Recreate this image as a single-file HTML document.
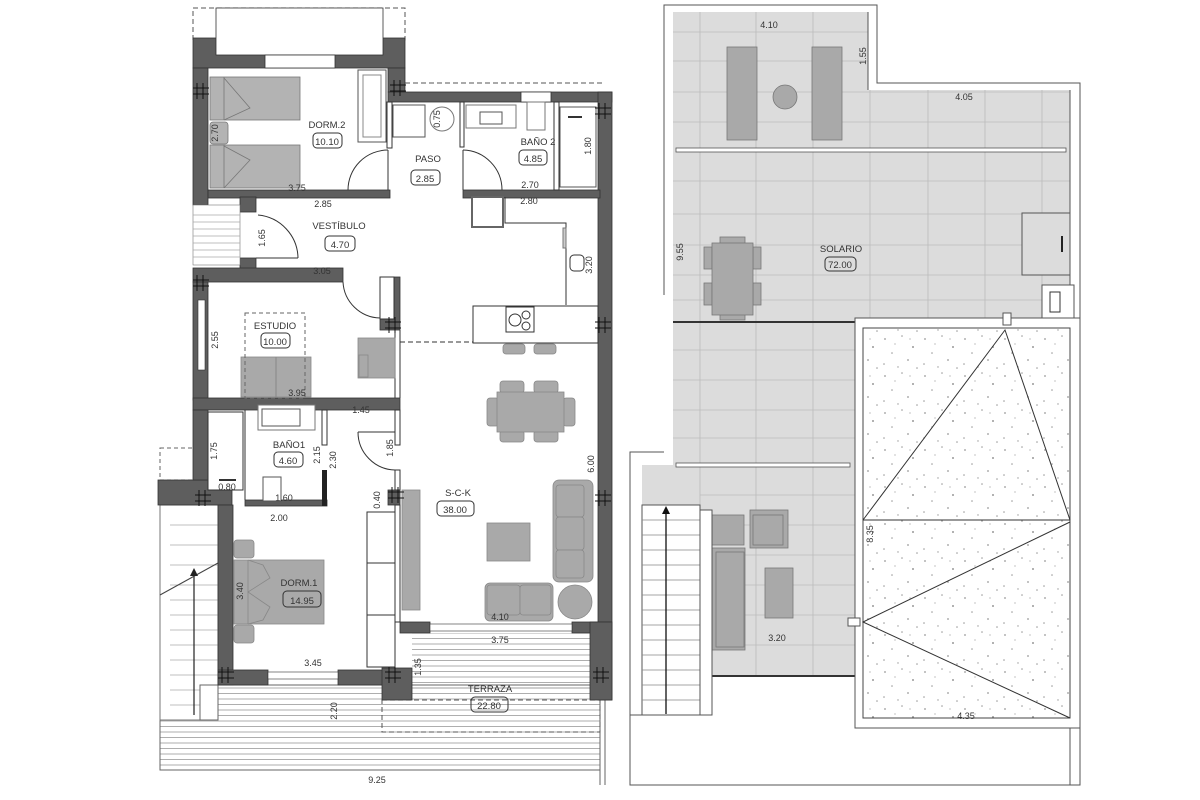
<!DOCTYPE html>
<html><head><meta charset="utf-8"><style>
html,body{margin:0;padding:0;background:#fff;}
svg{display:block;}
text{font-family:"Liberation Sans",sans-serif;fill:#333;}
</style></head><body>
<svg width="1200" height="800" viewBox="0 0 1200 800" xmlns="http://www.w3.org/2000/svg">
<defs>
<pattern id="hatch" width="10" height="5.5" patternUnits="userSpaceOnUse"><line x1="0" y1="0.5" x2="10" y2="0.5" stroke="#999" stroke-width="0.8"/></pattern>
<pattern id="grav" width="40" height="37" patternUnits="userSpaceOnUse">
<g fill="#999"><circle cx="5" cy="6" r="0.9"/><circle cx="22" cy="3" r="0.8"/><circle cx="33" cy="14" r="1"/><circle cx="12" cy="20" r="0.8"/><circle cx="28" cy="27" r="0.9"/><circle cx="4" cy="31" r="0.8"/><circle cx="18" cy="34" r="0.7"/><circle cx="37" cy="35" r="0.8"/><circle cx="15" cy="11" r="0.6"/><circle cx="30" cy="6" r="0.6"/></g></pattern>
</defs>

<!-- ============ LEFT PLAN ============ -->
<rect x="160" y="685" width="440" height="85" fill="url(#hatch)"/>
<rect x="412" y="633" width="188" height="60" fill="url(#hatch)"/>
<rect x="160" y="685" width="440" height="85" fill="none" stroke="#666" stroke-width="1"/>
<line x1="600" y1="700" x2="600" y2="785" stroke="#666"/><line x1="605" y1="700" x2="605" y2="785" stroke="#666"/>
<rect x="382" y="700" width="218" height="32" fill="none" stroke="#555" stroke-dasharray="5,3"/>
<rect x="160" y="505" width="58" height="215" fill="#fff" stroke="#777"/>
<g stroke="#aaa" stroke-width="0.8">
<line x1="170" y1="525" x2="218" y2="525"/><line x1="170" y1="545" x2="218" y2="545"/><line x1="170" y1="565" x2="218" y2="565"/><line x1="170" y1="585" x2="218" y2="585"/><line x1="170" y1="600" x2="218" y2="600"/><line x1="170" y1="615" x2="218" y2="615"/><line x1="170" y1="630" x2="218" y2="630"/><line x1="170" y1="645" x2="218" y2="645"/><line x1="170" y1="660" x2="218" y2="660"/><line x1="170" y1="675" x2="218" y2="675"/><line x1="170" y1="690" x2="218" y2="690"/><line x1="170" y1="705" x2="218" y2="705"/></g>
<line x1="194" y1="572" x2="194" y2="715" stroke="#222" stroke-width="1.2"/>
<line x1="160" y1="595" x2="218" y2="563" stroke="#444"/>
<polygon points="194,568 190,576 198,576" fill="#222"/>
<rect x="160" y="448" width="35" height="32" fill="none" stroke="#666" stroke-dasharray="4,3"/>
<rect x="200" y="685" width="18" height="35" fill="#fff" stroke="#666"/>

<rect x="193" y="8" width="212" height="32" fill="none" stroke="#555" stroke-dasharray="5,3"/>
<line x1="405" y1="83" x2="605" y2="83" stroke="#555" stroke-dasharray="5,3"/>

<g fill="#5e5e5e" stroke="#333" stroke-width="0.8">
<rect x="193" y="38" width="212" height="30"/>
<rect x="388" y="68" width="17" height="24"/>
<rect x="388" y="92" width="224" height="10"/>
<rect x="598" y="92" width="14" height="608"/>
<rect x="193" y="68" width="15" height="137"/>
<rect x="208" y="190" width="182" height="8"/>
<rect x="463" y="190" width="137" height="8"/>
<rect x="240" y="197" width="16" height="15"/>
<rect x="240" y="258" width="16" height="17"/>
<rect x="193" y="268" width="150" height="14"/>
<rect x="380" y="277" width="20" height="53"/>
<rect x="193" y="282" width="15" height="118"/>
<rect x="193" y="398" width="207" height="12"/>
<rect x="158" y="480" width="74" height="25"/>
<rect x="193" y="410" width="15" height="70"/>
<rect x="218" y="505" width="15" height="180"/>
<rect x="218" y="670" width="50" height="15"/>
<rect x="338" y="670" width="62" height="15"/>
<rect x="382" y="668" width="30" height="32"/>
<rect x="388" y="490" width="12" height="15"/>
<rect x="400" y="622" width="30" height="11"/>
<rect x="572" y="622" width="40" height="11"/>
<rect x="590" y="622" width="22" height="78"/>
<rect x="245" y="500" width="82" height="6"/>
</g>
<rect x="216" y="8" width="167" height="47" fill="#fff" stroke="#333" stroke-width="0.8"/>
<rect x="265" y="55" width="70" height="13" fill="#fff" stroke="#333" stroke-width="0.8"/>
<rect x="521" y="92" width="30" height="10" fill="#fff" stroke="#333" stroke-width="0.8"/>
<rect x="198" y="300" width="7" height="70" fill="#fff" stroke="#333" stroke-width="0.6"/>
<rect x="430" y="624" width="142" height="7" fill="#fff" stroke="#333" stroke-width="0.6"/>
<rect x="268" y="672" width="70" height="7" fill="#fff" stroke="#333" stroke-width="0.6"/>
<rect x="193" y="205" width="47" height="60" fill="#fff" stroke="#777" stroke-width="0.6"/>
<g stroke="#aaa" stroke-width="0.7"><line x1="193" y1="215" x2="240" y2="215"/><line x1="193" y1="222" x2="240" y2="222"/><line x1="193" y1="229" x2="240" y2="229"/><line x1="193" y1="236" x2="240" y2="236"/><line x1="193" y1="243" x2="240" y2="243"/><line x1="193" y1="250" x2="240" y2="250"/><line x1="193" y1="257" x2="240" y2="257"/></g>

<g stroke="#333" stroke-width="1" fill="none">
<rect x="387" y="102" width="5" height="46"/>
<rect x="460" y="102" width="4" height="45"/>
<rect x="554" y="102" width="5" height="88"/>
<line x1="395" y1="330" x2="395" y2="398"/><line x1="400" y1="330" x2="400" y2="398"/>
<rect x="322" y="410" width="5" height="35"/>
<rect x="395" y="410" width="5" height="35"/>
<rect x="395" y="470" width="5" height="20"/>
<line x1="245" y1="410" x2="245" y2="500"/>
<rect x="395" y="505" width="5" height="117"/>
</g>
<rect x="322" y="470" width="5" height="36" fill="#222"/>

<g stroke="#333" stroke-width="1" fill="none">
<path d="M348,190 A40,40 0 0 1 388,150"/><line x1="388" y1="150" x2="388" y2="190"/>
<path d="M502,190 A40,40 0 0 0 463,150"/><line x1="463" y1="150" x2="463" y2="190"/>
<path d="M258,215 A44,44 0 0 1 298,258"/><line x1="256" y1="258" x2="298" y2="258"/>
<path d="M343,282 A38,38 0 0 0 380,318"/><line x1="380" y1="282" x2="380" y2="318"/>
<path d="M358,432 A38,38 0 0 0 395,470"/><line x1="358" y1="432" x2="395" y2="432"/>
</g>

<g fill="#b3b3b3" stroke="#777" stroke-width="0.8">
<rect x="210" y="77" width="90" height="43"/><rect x="210" y="145" width="90" height="43"/>
<rect x="210" y="122" width="18" height="22" rx="3"/>
</g>
<g stroke="#777" fill="none" stroke-width="0.8"><line x1="224" y1="77" x2="224" y2="120"/><polyline points="224,78 250,108 224,120"/><line x1="224" y1="145" x2="224" y2="188"/><polyline points="224,146 250,160 224,188"/></g>
<rect x="358" y="70" width="28" height="72" fill="#fff" stroke="#555"/><rect x="363" y="75" width="18" height="62" fill="#fff" stroke="#888"/>
<rect x="393" y="105" width="32" height="32" fill="#fff" stroke="#555"/>
<circle cx="442" cy="119" r="12" fill="#fff" stroke="#777"/>
<rect x="466" y="105" width="50" height="23" fill="#fff" stroke="#777"/><rect x="480" y="112" width="22" height="12" fill="#fff" stroke="#555"/>
<rect x="527" y="102" width="18" height="28" fill="#fff" stroke="#777"/>
<rect x="560" y="107" width="36" height="80" fill="#fff" stroke="#555"/><line x1="568" y1="117" x2="582" y2="117" stroke="#333" stroke-width="2"/>
<polyline points="505,197 505,223 566,223 566,305" fill="none" stroke="#333"/>
<rect x="472" y="197" width="31" height="30" fill="#fff" stroke="#666" stroke-width="2"/>
<rect x="563" y="228" width="3" height="20" fill="#ccc" stroke="#777"/>
<rect x="570" y="255" width="14" height="16" rx="4" fill="#fff" stroke="#333"/>
<rect x="473" y="306" width="125" height="37" fill="#fff" stroke="#333"/>
<rect x="506" y="307" width="28" height="25" fill="#fff" stroke="#333"/><circle cx="515" cy="320" r="6" fill="none" stroke="#333"/><circle cx="526" cy="315" r="4" fill="none" stroke="#333"/><circle cx="526" cy="326" r="4" fill="none" stroke="#333"/>
<line x1="400" y1="342" x2="473" y2="342" stroke="#333" stroke-dasharray="5,3"/>
<g fill="#a9a9a9" stroke="#888" stroke-width="0.8">
<rect x="503" y="344" width="22" height="10" rx="3"/><rect x="534" y="344" width="22" height="10" rx="3"/>
<rect x="500" y="381" width="24" height="12" rx="3"/><rect x="534" y="381" width="24" height="12" rx="3"/>
<rect x="500" y="430" width="24" height="12" rx="3"/><rect x="534" y="430" width="24" height="12" rx="3"/>
<rect x="487" y="398" width="12" height="28" rx="3"/><rect x="563" y="398" width="12" height="28" rx="3"/>
<rect x="497" y="392" width="67" height="40"/>
<rect x="402" y="490" width="18" height="120"/>
<rect x="553" y="480" width="40" height="102" rx="6"/>
<rect x="556" y="485" width="28" height="32" rx="3"/><rect x="556" y="517" width="28" height="33" rx="3"/><rect x="556" y="550" width="28" height="28" rx="3"/>
<rect x="487" y="523" width="43" height="38"/>
<rect x="485" y="583" width="68" height="38" rx="5"/>
<rect x="487" y="585" width="33" height="30" rx="3"/><rect x="520" y="585" width="31" height="30" rx="3"/>
<circle cx="575" cy="602" r="17"/>
<rect x="241" y="357" width="70" height="40"/>
<rect x="358" y="338" width="37" height="40"/><rect x="359" y="355" width="9" height="22"/>
<rect x="234" y="540" width="20" height="18" rx="3"/><rect x="234" y="625" width="20" height="18" rx="3"/>
<rect x="234" y="560" width="90" height="64"/>
</g>
<line x1="276" y1="357" x2="276" y2="397" stroke="#888"/>
<g stroke="#888" fill="none" stroke-width="0.8"><line x1="248" y1="560" x2="248" y2="624"/><polyline points="248,560 263,565 270,578 248,592 270,607 263,620 248,624"/></g>
<rect x="245" y="313" width="60" height="85" fill="none" stroke="#666" stroke-dasharray="4,3"/>
<rect x="367" y="512" width="28" height="155" fill="#fff" stroke="#333"/><line x1="367" y1="563" x2="395" y2="563" stroke="#333"/><line x1="367" y1="615" x2="395" y2="615" stroke="#333"/>
<rect x="380" y="277" width="14" height="42" fill="#fff" stroke="#333"/>
<rect x="258" y="405" width="57" height="25" fill="#fff" stroke="#777"/><rect x="262" y="409" width="38" height="17" fill="#fff" stroke="#555"/>
<rect x="263" y="477" width="18" height="24" fill="#fff" stroke="#555"/>
<rect x="208" y="412" width="35" height="78" fill="#fff" stroke="#333"/>
<line x1="219" y1="480" x2="236" y2="480" stroke="#333" stroke-width="2"/>

<g stroke="#111" stroke-width="1" fill="none">
<path d="M193,88h16M193,94h16M197,83v16M203,83v16"/>
<path d="M390,85h16M390,91h16M394,80v16M400,80v16"/>
<path d="M595,108h16M595,114h16M599,103v16M605,103v16"/>
<path d="M193,280h16M193,286h16M197,275v16M203,275v16"/>
<path d="M385,322h16M385,328h16M389,317v16M395,317v16"/>
<path d="M595,322h16M595,328h16M599,317v16M605,317v16"/>
<path d="M195,495h16M195,501h16M199,490v16M205,490v16"/>
<path d="M388,492h16M388,498h16M392,487v16M398,487v16"/>
<path d="M595,495h16M595,501h16M599,490v16M605,490v16"/>
<path d="M218,672h16M218,678h16M222,667v16M228,667v16"/>
<path d="M385,672h16M385,678h16M389,667v16M395,667v16"/>
<path d="M593,672h16M593,678h16M597,667v16M603,667v16"/>
</g>

<!-- ============ RIGHT PLAN ============ -->
<polyline points="664,295 664,5 877,5 877,83 1080,83 1080,785 630,785 630,452 664,452" fill="none" stroke="#555" stroke-width="1"/>
<g fill="#dcdcdc">
<rect x="673" y="12" width="195" height="80"/>
<rect x="673" y="90" width="397" height="230"/>
<rect x="673" y="320" width="182" height="145"/>
<rect x="642" y="465" width="213" height="210"/>
</g>
<g stroke="#bbb" stroke-width="0.8">
<line x1="700" y1="12" x2="700" y2="675"/><line x1="756" y1="12" x2="756" y2="675"/><line x1="813" y1="12" x2="813" y2="675"/>
<line x1="870" y1="90" x2="870" y2="320"/><line x1="928" y1="90" x2="928" y2="320"/><line x1="985" y1="90" x2="985" y2="320"/><line x1="1042" y1="90" x2="1042" y2="320"/>
<line x1="673" y1="32" x2="868" y2="32"/><line x1="673" y1="61" x2="868" y2="61"/><line x1="673" y1="92" x2="1070" y2="92"/><line x1="673" y1="122" x2="1070" y2="122"/>
<line x1="673" y1="181" x2="1070" y2="181"/><line x1="673" y1="214" x2="1070" y2="214"/><line x1="673" y1="245" x2="1070" y2="245"/><line x1="673" y1="275" x2="1070" y2="275"/><line x1="673" y1="300" x2="1070" y2="300"/>
<line x1="673" y1="350" x2="855" y2="350"/><line x1="673" y1="380" x2="855" y2="380"/><line x1="673" y1="410" x2="855" y2="410"/><line x1="673" y1="438" x2="855" y2="438"/>
<line x1="700" y1="495" x2="855" y2="495"/><line x1="700" y1="525" x2="855" y2="525"/><line x1="700" y1="555" x2="855" y2="555"/><line x1="700" y1="585" x2="855" y2="585"/><line x1="700" y1="615" x2="855" y2="615"/><line x1="700" y1="645" x2="855" y2="645"/>
</g>
<line x1="868" y1="12" x2="868" y2="90" stroke="#555"/>
<line x1="1070" y1="90" x2="1070" y2="785" stroke="#555"/>
<line x1="673" y1="322" x2="855" y2="322" stroke="#333" stroke-width="2"/>
<rect x="676" y="148" width="390" height="4" fill="#fff" stroke="#555" stroke-width="0.8"/>
<rect x="676" y="463" width="174" height="4" fill="#fff" stroke="#555" stroke-width="0.8"/>
<line x1="700" y1="676" x2="855" y2="676" stroke="#333" stroke-width="2"/>
<g fill="#a9a9a9" stroke="#777" stroke-width="0.8">
<rect x="727" y="47" width="30" height="93"/><rect x="812" y="47" width="30" height="93"/>
<ellipse cx="785" cy="97" rx="12" ry="12"/>
<rect x="720" y="237" width="25" height="8"/><rect x="720" y="312" width="25" height="8"/>
<rect x="704" y="247" width="8" height="22"/><rect x="704" y="283" width="8" height="22"/>
<rect x="753" y="247" width="8" height="22"/><rect x="753" y="283" width="8" height="22"/>
<rect x="712" y="243" width="41" height="72"/>
<rect x="712" y="515" width="32" height="30"/>
<rect x="750" y="510" width="38" height="38"/><rect x="753" y="515" width="30" height="30"/>
<rect x="706" y="548" width="39" height="102"/><rect x="716" y="552" width="28" height="95"/>
<rect x="765" y="568" width="28" height="50"/>
</g>
<rect x="1022" y="213" width="48" height="62" fill="#dcdcdc" stroke="#555"/><line x1="1062" y1="236" x2="1062" y2="252" stroke="#222" stroke-width="2"/>
<rect x="1042" y="285" width="32" height="33" fill="#fff" stroke="#555"/><rect x="1050" y="292" width="10" height="20" fill="#fff" stroke="#333"/>
<rect x="642" y="505" width="58" height="210" fill="#fff" stroke="#555"/>
<g stroke="#888" stroke-width="0.7">
<line x1="642" y1="520" x2="700" y2="520"/><line x1="642" y1="535" x2="700" y2="535"/><line x1="642" y1="550" x2="700" y2="550"/><line x1="642" y1="565" x2="700" y2="565"/><line x1="642" y1="580" x2="700" y2="580"/><line x1="642" y1="595" x2="700" y2="595"/><line x1="642" y1="610" x2="700" y2="610"/><line x1="642" y1="625" x2="700" y2="625"/><line x1="642" y1="640" x2="700" y2="640"/><line x1="642" y1="655" x2="700" y2="655"/><line x1="642" y1="670" x2="700" y2="670"/><line x1="642" y1="685" x2="700" y2="685"/><line x1="642" y1="700" x2="700" y2="700"/></g>
<line x1="666" y1="510" x2="666" y2="714" stroke="#111" stroke-width="1.3"/><polygon points="666,506 662,514 670,514" fill="#111"/>
<rect x="700" y="510" width="12" height="205" fill="#fff" stroke="#555"/>
<line x1="630" y1="715" x2="642" y2="715" stroke="#555"/>
<rect x="855" y="318" width="225" height="410" fill="#fff" stroke="#555"/>
<rect x="863" y="328" width="207" height="390" fill="url(#grav)" stroke="#444"/>
<g stroke="#333" stroke-width="1" fill="none">
<polyline points="863,520 1005,330 1070,520"/>
<line x1="863" y1="520" x2="1070" y2="520"/>
<polyline points="1070,522 863,622 1070,718"/>
</g>
<rect x="1003" y="313" width="8" height="12" fill="#fff" stroke="#555"/>
<rect x="848" y="618" width="12" height="8" fill="#fff" stroke="#555"/>

<!-- ============ LABELS (on top) ============ -->
<g font-size="9.5" text-anchor="middle">
<text x="327" y="128">DORM.2</text>
<text x="428" y="162">PASO</text>
<text x="538" y="145">BAÑO 2</text>
<text x="339" y="229">VESTÍBULO</text>
<text x="275" y="329">ESTUDIO</text>
<text x="289" y="448">BAÑO1</text>
<text x="458" y="496">S-C-K</text>
<text x="299" y="586">DORM.1</text>
<text x="490" y="692">TERRAZA</text>
<text x="841" y="252">SOLARIO</text>
</g>
<g fill="none" stroke="#333" stroke-width="1">
<rect x="313" y="133" width="29" height="15" rx="4"/>
<rect x="411" y="170" width="29" height="15" rx="4"/>
<rect x="519" y="150" width="28" height="15" rx="4"/>
<rect x="325" y="236" width="30" height="15" rx="4"/>
<rect x="261" y="333" width="29" height="15" rx="4"/>
<rect x="274" y="452" width="29" height="15" rx="4"/>
<rect x="437" y="501" width="37" height="15" rx="4"/>
<rect x="283" y="591" width="38" height="16" rx="4"/>
<rect x="471" y="697" width="37" height="15" rx="4"/>
<rect x="825" y="257" width="31" height="14" rx="4"/>
</g>
<g font-size="9.5" text-anchor="middle">
<text x="327" y="145">10.10</text>
<text x="425" y="182">2.85</text>
<text x="533" y="162">4.85</text>
<text x="340" y="248">4.70</text>
<text x="275" y="345">10.00</text>
<text x="288" y="464">4.60</text>
<text x="455" y="513">38.00</text>
<text x="302" y="604">14.95</text>
<text x="489" y="709">22.80</text>
<text x="840" y="268">72.00</text>
</g>
<g font-size="9" text-anchor="middle">
<text x="297" y="191">3.75</text>
<text x="323" y="207">2.85</text>
<text x="530" y="188">2.70</text>
<text x="529" y="204">2.80</text>
<text x="322" y="274">3.05</text>
<text x="297" y="396">3.95</text>
<text x="361" y="413">1.45</text>
<text x="227" y="490">0.80</text>
<text x="284" y="501">1.60</text>
<text x="279" y="521">2.00</text>
<text x="313" y="666">3.45</text>
<text x="500" y="620">4.10</text>
<text x="500" y="643">3.75</text>
<text x="769" y="28">4.10</text>
<text x="964" y="100">4.05</text>
<text x="777" y="641">3.20</text>
<text x="966" y="719">4.35</text>
<text x="377" y="783">9.25</text>
</g>
<g font-size="9" text-anchor="middle">
<text transform="translate(218,133) rotate(-90)">2.70</text>
<text transform="translate(440,119) rotate(-90)">0.75</text>
<text transform="translate(591,146) rotate(-90)">1.80</text>
<text transform="translate(265,238) rotate(-90)">1.65</text>
<text transform="translate(592,265) rotate(-90)">3.20</text>
<text transform="translate(218,340) rotate(-90)">2.55</text>
<text transform="translate(217,451) rotate(-90)">1.75</text>
<text transform="translate(320,455) rotate(-90)">2.15</text>
<text transform="translate(336,460) rotate(-90)">2.30</text>
<text transform="translate(393,448) rotate(-90)">1.85</text>
<text transform="translate(380,500) rotate(-90)">0.40</text>
<text transform="translate(594,464) rotate(-90)">6.00</text>
<text transform="translate(243,591) rotate(-90)">3.40</text>
<text transform="translate(421,667) rotate(-90)">1.35</text>
<text transform="translate(337,711) rotate(-90)">2.20</text>
<text transform="translate(866,56) rotate(-90)">1.55</text>
<text transform="translate(683,252) rotate(-90)">9.55</text>
<text transform="translate(873,534) rotate(-90)">8.35</text>
</g>
</svg>
</body></html>
